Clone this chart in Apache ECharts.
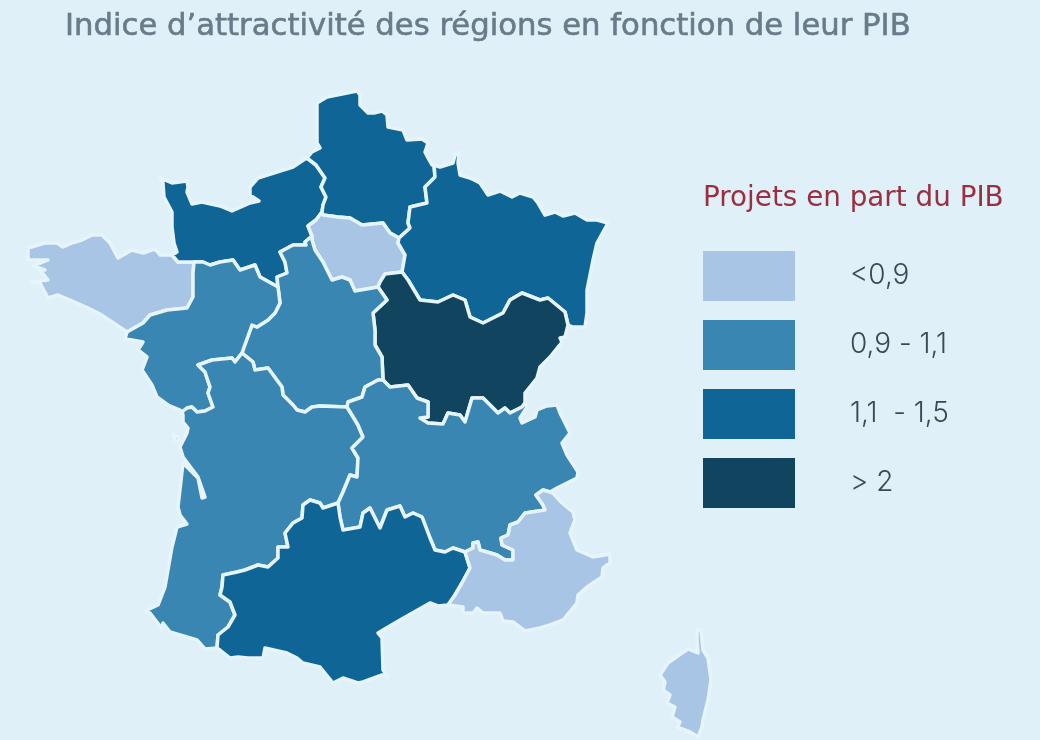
<!DOCTYPE html>
<html>
<head>
<meta charset="utf-8">
<title>Indice d'attractivité</title>
<script src="https://cdn.jsdelivr.net/npm/echarts@6/dist/echarts.min.js"></script>
<style>
  html, body { margin: 0; padding: 0; background: #dff0f9; }
  #chart { width: 1040px; height: 740px; }
</style>
</head>
<body>
<div id="chart"></div>
<script>
// valeurs lues sur la carte (seule la classe est lisible, valeur estimee dans la classe)
var regionNames = ['Bretagne', 'Normandie', 'Hauts-de-France', 'Ile-de-France', 'Grand Est',
  'Bourgogne-Franche-Comte', 'Centre-Val de Loire', 'Pays de la Loire', 'Nouvelle-Aquitaine',
  'Auvergne-Rhone-Alpes', 'Occitanie', 'PACA', 'Corse'];
var regionValues = [0.8, 1.3, 1.3, 0.8, 1.3, 2.2, 1.0, 1.0, 1.0, 1.0, 1.3, 0.8, 0.8];
var classLabels = ['<0,9', '0,9 - 1,1', '1,1  - 1,5', '> 2'];
var classMin = [0, 0.9, 1.1, 1.5];
var classMax = [0.9, 1.1, 1.5, 3];
var classColors = ['#a8c5e6', '#3a86b2', '#0f6696', '#10445f'];

// frontieres communes, decoupees entre deux jonctions
var breNor = [[172,255],[178,262],[194,262]];
var brePdl = [[194,262],[193,273],[193,297],[187,308],[167,310],[150,315],[143,323],[127,332]];
var breCoast = [[127,332],[112,322],[100,314],[88,308],[70,300],[58,295],[48,298],[40,283],[30,282],[48,280],[40,270],[45,270],[33,266],[48,260],[28,260],[28,248],[45,243],[57,243],[63,247],[72,243],[82,240],[92,235],[102,235],[110,243],[118,258],[132,250],[143,253],[155,249],[160,255],[172,255]];
var norPdl = [[194,262],[203,262],[210,265],[220,262],[233,260],[240,270],[255,265],[260,277],[278,287]];
var norCen = [[312,236],[305,242],[306,245],[293,245],[280,252],[285,262],[287,273],[277,277],[278,287]];
var idfNor = [[322,212],[316,220],[308,226],[312,236]];
var hdfNor = [[307,158],[316,165],[325,178],[321,187],[326,197],[323,205],[322,212]];
var norCoast = [[172,255],[177,252],[174,243],[172,227],[172,212],[164,197],[163,183],[160,178],[172,183],[187,181],[188,187],[187,192],[192,204],[202,202],[220,206],[232,211],[250,203],[259,201],[250,195],[250,187],[258,178],[277,172],[293,167],[305,159],[307,158]];
var hdfIdf = [[322,212],[323,215],[338,217],[350,218],[362,225],[383,223],[390,233],[399,238]];
var hdfGe = [[434,165],[435,177],[425,187],[427,203],[410,207],[408,223],[410,228],[399,238]];
var hdfCoast = [[307,158],[312,152],[320,148],[317,143],[317,103],[327,97],[357,91],[360,95],[360,105],[368,113],[374,113],[382,111],[387,115],[388,127],[403,130],[407,140],[422,139],[428,143],[425,152],[428,158],[432,165],[434,165]];
var idfGe = [[399,238],[398,243],[405,255],[402,272]];
var idfBfc = [[402,272],[385,274],[380,282],[378,287]];
var idfCen = [[378,287],[355,291],[350,280],[342,277],[332,280],[323,262],[315,250],[312,240],[312,236]];
var geBfc = [[402,272],[408,280],[420,300],[438,302],[453,295],[465,300],[470,317],[483,323],[503,313],[510,300],[522,293],[540,300],[548,298],[565,312],[568,325]];
var geCoast = [[568,325],[573,327],[585,327],[587,313],[587,290],[593,260],[597,243],[608,223],[597,220],[587,220],[575,213],[563,216],[555,212],[545,215],[538,203],[533,197],[520,193],[512,197],[500,191],[488,195],[480,183],[470,178],[460,175],[458,163],[459,152],[455,155],[453,163],[440,167],[434,165]];
var bfcCen = [[378,287],[387,300],[373,313],[375,330],[375,345],[382,357],[383,380]];
var bfcAra = [[383,380],[390,387],[408,385],[417,398],[428,402],[428,417],[420,418],[428,423],[443,424],[448,413],[460,415],[465,422],[472,398],[483,398],[498,413],[505,408],[510,413],[522,407],[525,403]];
var bfcCoast = [[525,403],[525,393],[537,378],[540,367],[550,357],[562,342],[560,338],[565,337],[568,325]];
var araCoast = [[525,403],[527,407],[520,418],[522,423],[535,417],[537,410],[547,406],[557,405],[560,413],[570,433],[562,443],[567,455],[578,472],[577,478],[557,488],[550,492]];
var araPaca = [[550,492],[543,490],[536,495],[543,505],[545,510],[525,513],[518,522],[510,525],[508,535],[501,538],[502,545],[513,550],[513,560],[505,560],[497,555],[487,552],[480,550],[478,542],[473,543],[473,548],[465,552]];
var araOcc = [[338,503],[340,517],[343,530],[360,527],[363,513],[370,508],[380,528],[387,510],[400,506],[405,517],[413,513],[422,517],[430,538],[435,550],[445,552],[453,548],[465,552]];
var occPaca = [[465,552],[470,568],[462,583],[455,595],[448,605]];
var pacaCoast = [[448,605],[463,607],[463,613],[473,613],[477,608],[483,613],[500,613],[503,621],[513,622],[525,631],[540,628],[550,625],[563,620],[577,603],[578,595],[587,587],[602,577],[603,568],[610,563],[610,554],[593,557],[577,550],[570,533],[575,520],[573,512],[562,503],[553,493],[550,492]];
var occCoast = [[448,605],[438,606],[430,603],[400,620],[383,630],[378,633],[382,638],[383,670],[388,677],[382,675],[363,682],[358,683],[343,678],[333,683],[320,667],[303,663],[297,658],[287,653],[265,648],[263,658],[248,658],[238,657],[230,658],[220,650],[217,648]];
var naOcc = [[338,503],[323,508],[320,503],[310,500],[303,505],[302,518],[293,523],[285,533],[288,547],[278,547],[278,558],[268,567],[258,565],[245,570],[237,572],[223,575],[222,587],[220,595],[230,602],[235,615],[228,627],[218,635],[217,648]];
var naCoast = [[217,648],[205,649],[197,640],[170,632],[163,623],[162,630],[160,626],[150,613],[145,611],[158,605],[165,587],[172,547],[177,527],[187,524],[180,515],[178,507],[183,463],[198,478],[202,498],[205,497],[198,477],[183,457],[180,447],[187,433],[188,428],[183,422],[183,415],[182,412]];
var naPdl = [[182,412],[187,408],[192,407],[197,412],[205,411],[213,407],[208,393],[210,387],[205,372],[198,365],[212,360],[232,358],[235,362],[242,353]];
var pdlCen = [[278,287],[280,303],[275,313],[268,320],[257,327],[252,325],[243,350],[242,353]];
var naCen = [[242,353],[253,362],[255,370],[268,368],[282,387],[283,395],[293,405],[297,410],[305,412],[312,407],[320,406],[347,407]];
var cenAra = [[383,380],[378,380],[365,387],[362,397],[348,402],[347,407]];
var naAra = [[347,407],[352,415],[358,425],[363,437],[352,448],[358,458],[357,477],[350,475],[343,492],[338,503]];
var pdlCoast = [[127,332],[125,339],[132,340],[143,342],[138,350],[147,357],[142,370],[152,385],[157,397],[168,405],[180,410],[182,412]];
var oleron = [[173,434],[178,437],[180,444],[175,440]];
var corse = [[697,630],[701,630],[703,650],[708,658],[711,680],[708,700],[703,720],[702,727],[698,737],[695,735],[690,732],[677,727],[680,722],[672,717],[675,707],[667,703],[670,695],[663,690],[665,682],[660,675],[668,663],[682,653],[688,649],[698,653],[697,640],[697,630]];

function rev(arc) {
  return arc.slice().reverse();
}

function ring() {
  var pts = [];
  for (var i = 0; i < arguments.length; i++) {
    pts = pts.concat(arguments[i]);
  }
  pts.push(pts[0]);
  return pts;
}

var shapes = [
  [ring(breNor, brePdl, breCoast)],
  [ring(breNor, norPdl, rev(norCen), rev(idfNor), rev(hdfNor), rev(norCoast))],
  [ring(hdfNor, hdfIdf, rev(hdfGe), rev(hdfCoast))],
  [ring(hdfIdf, idfGe, idfBfc, idfCen, rev(idfNor))],
  [ring(hdfGe, idfGe, geBfc, geCoast)],
  [ring(geBfc, rev(bfcCoast), rev(bfcAra), rev(bfcCen), rev(idfBfc))],
  [ring(norCen, pdlCen, naCen, rev(cenAra), rev(bfcCen), idfCen)],
  [ring(norPdl, pdlCen, rev(naPdl), rev(pdlCoast), rev(brePdl))],
  [ring(naPdl, naCen, naAra, naOcc, naCoast), ring(oleron)],
  [ring(bfcAra, araCoast, araPaca, rev(araOcc), rev(naAra), rev(cenAra))],
  [ring(araOcc, occPaca, occCoast, rev(naOcc))],
  [ring(araPaca, occPaca, pacaCoast)],
  [corse]
];

var features = [];
for (var i = 0; i < regionNames.length; i++) {
  features.push({
    type: 'Feature',
    properties: { name: regionNames[i] },
    geometry: { type: 'MultiPolygon', coordinates: shapes[i].map(function (r) { return [r]; }) }
  });
}
echarts.registerMap('france', { type: 'FeatureCollection', features: features });

var seriesData = [];
for (var i = 0; i < regionNames.length; i++) {
  seriesData.push({ name: regionNames[i], value: regionValues[i] });
}

var pieces = [];
for (var i = 0; i < classLabels.length; i++) {
  pieces.push({ min: classMin[i], max: classMax[i], label: classLabels[i], color: classColors[i] });
}

var myChart = echarts.init(document.getElementById('chart'));
var option = {
  backgroundColor: '#dff0f9',
  animation: false,
  title: [
    {
      text: 'Indice d’attractivité des régions en fonction de leur PIB',
      left: 65,
      top: 12,
      padding: 0,
      textStyle: { fontFamily: 'DejaVu Sans', fontSize: 30.7, fontWeight: 400, color: '#687b88', textBorderColor: '#687b88', textBorderWidth: 0.6 }
    },
    {
      text: 'Projets en part du PIB',
      left: 703,
      top: 185,
      padding: 0,
      textStyle: { fontFamily: 'DejaVu Sans', fontSize: 27.8, fontWeight: 400, color: '#9a2f3f' }
    }
  ],
  visualMap: {
    type: 'piecewise',
    left: 703,
    top: 251,
    padding: 0,
    orient: 'vertical',
    inverse: true,
    align: 'left',
    itemWidth: 92,
    itemHeight: 50,
    itemGap: 19,
    textGap: 55,
    itemSymbol: 'rect',
    selectedMode: false,
    pieces: pieces,
    textStyle: { fontFamily: 'Inter', fontSize: 28, fontWeight: 300, color: '#3a4a55', padding: [0, 0, 8, 0] }
  },
  series: [
    {
      type: 'map',
      map: 'france',
      projection: {
        project: function (p) { return p; },
        unproject: function (p) { return p; }
      },
      left: 28,
      top: 91,
      width: 683,
      height: 646,
      silent: true,
      label: { show: false },
      emphasis: { disabled: true },
      select: { disabled: true },
      itemStyle: { borderColor: '#e6f4fb', borderWidth: 3.5, borderJoin: 'round' },
      data: seriesData
    }
  ]
};
myChart.setOption(option, true);
</script>
</body>
</html>
